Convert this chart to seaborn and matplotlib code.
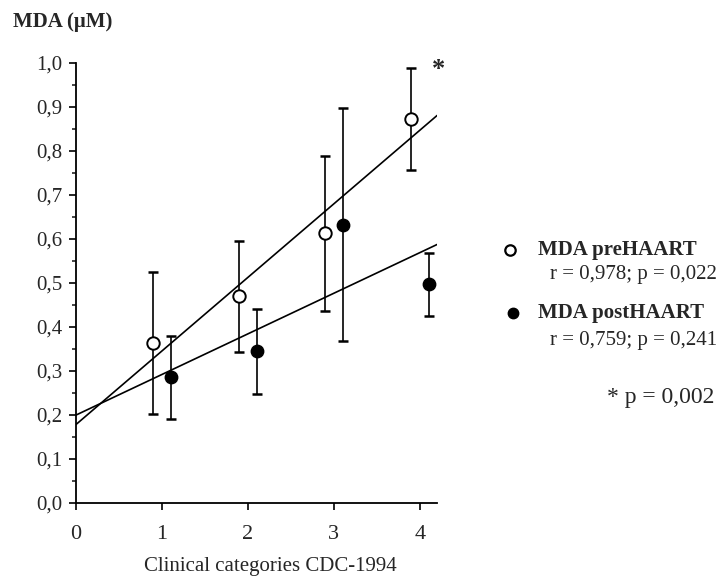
import numpy as np
import pandas as pd
import matplotlib
matplotlib.use("Agg")
import matplotlib.pyplot as plt
import seaborn as sns
from matplotlib.lines import Line2D
from matplotlib.ticker import MultipleLocator, FuncFormatter

# values (CDC-1994 categories, points offset +/-0.1 for display)
pre_x = [0.9, 1.9, 2.9, 3.9]
pre_mean = [0.363, 0.469, 0.613, 0.873]
pre_sd = [0.162, 0.127, 0.176, 0.116]

post_x = [1.1, 2.1, 3.1, 4.1]
post_mean = [0.285, 0.344, 0.632, 0.497]
post_sd = [0.095, 0.096, 0.265, 0.072]

x_ticks = [0, 1, 2, 3, 4]
legend_labels = ["MDA preHAART", "MDA postHAART"]
legend_stats = ["r = 0,978; p = 0,022", "r = 0,759; p = 0,241"]
note_text = "* p = 0,002"

pre = pd.DataFrame({"x": pre_x, "mda": pre_mean, "sd": pre_sd})
post = pd.DataFrame({"x": post_x, "mda": post_mean, "sd": post_sd})

sns.set_style("ticks")
plt.rcParams["font.family"] = ["Liberation Serif", "DejaVu Serif"]

fig = plt.figure(figsize=(7.18, 5.8), dpi=100)
ax = fig.add_axes([0.1058, 0.1333, 0.503, 0.758])
ax.set_xlim(0, 4.2)
ax.set_ylim(0, 1.0)

# regression lines across the full x range
for df in (pre, post):
    sns.regplot(data=df, x="x", y="mda", ax=ax, scatter=False, ci=None,
                truncate=False, color="black", line_kws={"lw": 1.2})

# error bars
for df in (pre, post):
    ax.errorbar(df["x"], df["mda"], yerr=df["sd"], fmt="none", ecolor="black",
                elinewidth=1.2, capsize=3.5, capthick=1.8, zorder=3)

sns.scatterplot(data=pre, x="x", y="mda", ax=ax, s=80, marker="o",
                facecolor="white", edgecolor="black", linewidth=1.4, zorder=4)
sns.scatterplot(data=post, x="x", y="mda", ax=ax, s=80, marker="o",
                color="black", edgecolor="black", linewidth=1.0, zorder=4)

ax.set_xlim(0, 4.2)
ax.set_ylim(0, 1.0)
ax.set_xticks(x_ticks)
ax.yaxis.set_major_locator(MultipleLocator(0.1))
ax.yaxis.set_minor_locator(MultipleLocator(0.05))
ax.yaxis.set_major_formatter(FuncFormatter(lambda v, p: f"{v:.1f}".replace(".", ",")))
ax.tick_params(axis="both", which="major", length=5, width=1.2, labelsize=15, color="black")
ax.tick_params(axis="y", which="minor", length=3, width=1.2)
ax.tick_params(axis="x", pad=11, labelsize=16)
ax.tick_params(axis="y", pad=5)
sns.despine(ax=ax)
for s in ("left", "bottom"):
    ax.spines[s].set_linewidth(1.3)
    ax.spines[s].set_color("black")

ax.set_ylabel("")
ax.set_xlabel("Clinical categories CDC-1994", fontsize=15)
ax.xaxis.set_label_coords(0.537, -0.123)

ax.text(4.22, 0.985, "*", fontsize=19, fontweight="bold", ha="center", va="center",
        clip_on=False)

fig.text(0.018, 1 - 22 / 580, "MDA (μM)", fontsize=15, fontweight="bold",
         ha="left", va="center")

# legend built by hand
fig.add_artist(Line2D([510 / 718], [1 - 250 / 580], transform=fig.transFigure,
                      marker="o", ms=7.5, mfc="white", mec="black", mew=1.6, ls="none"))
fig.add_artist(Line2D([513 / 718], [1 - 313 / 580], transform=fig.transFigure,
                      marker="o", ms=7.5, mfc="black", mec="black", ls="none"))
fig.text(538 / 718, 1 - 250 / 580, legend_labels[0], fontsize=15, fontweight="bold",
         ha="left", va="center")
fig.text(538 / 718, 1 - 313 / 580, legend_labels[1], fontsize=15, fontweight="bold",
         ha="left", va="center")
fig.text(717 / 718, 1 - 275 / 580, legend_stats[0], fontsize=15, ha="right", va="center")
fig.text(717 / 718, 1 - 340 / 580, legend_stats[1], fontsize=15, ha="right", va="center")
fig.text(714 / 718, 1 - 398 / 580, note_text, fontsize=17, ha="right", va="center")

fig.savefig("out.png", dpi=100)
